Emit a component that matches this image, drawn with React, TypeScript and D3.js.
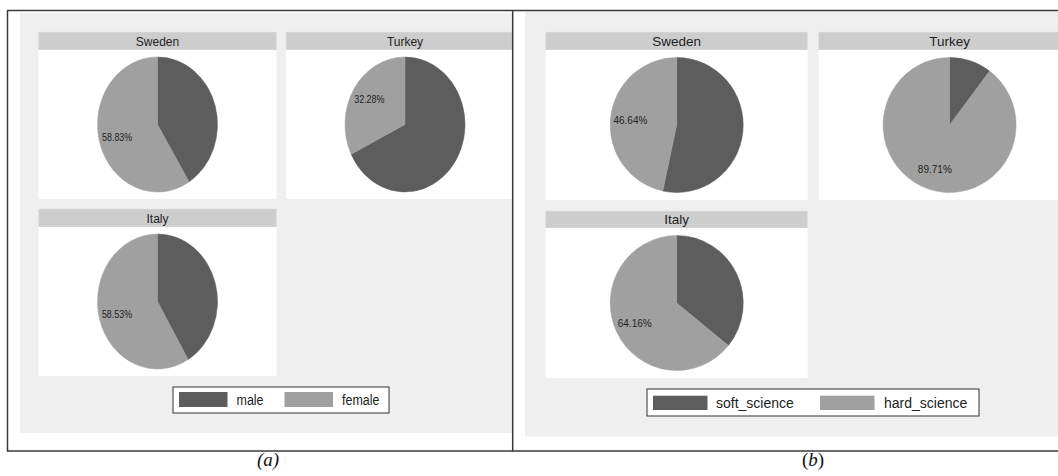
import React from "react";
import * as d3 from "d3";

// ---------- data ----------
const countries = ["Sweden", "Turkey", "Italy"];
const genderKeys = ["male", "female"];
const malePct = [41.17, 67.72, 41.47];
const femalePct = [58.83, 32.28, 58.53];
const scienceKeys = ["soft_science", "hard_science"];
const softPct = [53.36, 10.29, 35.84];
const hardPct = [46.64, 89.71, 64.16];
const captions = ["a", "b"];

const DARK = "#5d5d5d";
const LIGHT = "#a0a0a0";
const HEADER = "#cdcdcd";
const BG = "#efefef";
const FONT = "'Liberation Sans', Arial, sans-serif";

type Cell = { x: number; w: number; hy: number; py: number; ph: number };
type PanelCfg = {
  clipX0: number;
  clipX1: number;
  bg: [number, number, number, number];
  cells: Cell[];
  rx: number;
  ry: number;
  sx: number;
  keys: string[];
  first: number[];
  second: number[];
  legend: { x0: number; x1: number; y0: number; y1: number; sw: number[]; tx: number[]; sh: [number, number] };
};

const panels: PanelCfg[] = [
  {
    clipX0: 8,
    clipX1: 512,
    bg: [20, 13, 512, 433],
    cells: [
      { x: 38.5, w: 238, hy: 32, py: 50, ph: 149 },
      { x: 286, w: 238, hy: 32, py: 50, ph: 149 },
      { x: 38.5, w: 238, hy: 209, py: 227, ph: 149 },
    ],
    rx: 60,
    ry: 67.5,
    sx: 0.89,
    keys: genderKeys,
    first: malePct,
    second: femalePct,
    legend: { x0: 173, x1: 389, y0: 387, y1: 413, sw: [179, 284.5], tx: [236.5, 342], sh: [392, 407] },
  },
  {
    clipX0: 513,
    clipX1: 1058,
    bg: [525, 12, 1058, 436.5],
    cells: [
      { x: 545.7, w: 262, hy: 32, py: 50, ph: 150 },
      { x: 818.6, w: 262, hy: 32, py: 50, ph: 150 },
      { x: 545.7, w: 262, hy: 211, py: 228, ph: 150 },
    ],
    rx: 66.5,
    ry: 67.5,
    sx: 1,
    keys: scienceKeys,
    first: softPct,
    second: hardPct,
    legend: { x0: 647, x1: 979, y0: 389, y1: 416, sw: [653, 820], tx: [716, 884], sh: [395.7, 410] },
  },
];

const Panel: React.FC<{ cfg: PanelCfg; idx: number }> = ({ cfg, idx }) => {
  const pie = d3.pie<number>().sort(null).value((d) => d);
  const arc = d3.arc<d3.PieArcDatum<number>>().innerRadius(0).outerRadius(cfg.rx);
  const labelArc = d3
    .arc<d3.PieArcDatum<number>>()
    .innerRadius(cfg.rx * 0.7)
    .outerRadius(cfg.rx * 0.7);
  const ys = cfg.ry / cfg.rx;
  const colors = [DARK, LIGHT];
  const clipId = `clip${idx}`;
  const L = cfg.legend;
  return (
    <g>
      <defs>
        <clipPath id={clipId}>
          <rect x={cfg.clipX0} y={11} width={cfg.clipX1 - cfg.clipX0} height={440} />
        </clipPath>
      </defs>
      <g clipPath={`url(#${clipId})`}>
        <rect x={cfg.bg[0]} y={cfg.bg[1]} width={cfg.bg[2] - cfg.bg[0]} height={cfg.bg[3] - cfg.bg[1]} fill={BG} />
        {countries.map((c, i) => {
          const cell = cfg.cells[i];
          const cx = cell.x + cell.w / 2;
          const cy = cell.py + cell.ph / 2;
          const arcs = pie([cfg.first[i], cfg.second[i]]);
          const lab = labelArc.centroid(arcs[1]);
          return (
            <g key={c}>
              <rect x={cell.x} y={cell.hy} width={cell.w} height={cell.py - cell.hy} fill={HEADER} stroke="#dde4e8" strokeWidth={0.6} />
              <rect x={cell.x} y={cell.py} width={cell.w} height={cell.ph} fill="#ffffff" />
              <text
                transform={`translate(${cx},${(cell.hy + cell.py) / 2 + 4.8}) scale(${cfg.sx},1)`}
                textAnchor="middle"
                fontFamily={FONT}
                fontSize={13.5}
                fill="#222"
              >
                {c}
              </text>
              <g transform={`translate(${cx},${cy}) scale(1,${ys})`}>
                {arcs.map((a, j) => (
                  <path key={j} d={arc(a) || ""} fill={colors[j]} stroke={colors[j]} strokeWidth={0.5} />
                ))}
              </g>
              <text
                transform={`translate(${cx + lab[0]},${cy + lab[1] * ys + 3.5}) scale(${cfg.sx},1)`}
                textAnchor="middle"
                fontFamily={FONT}
                fontSize={10}
                fill="#222"
              >
                {`${cfg.second[i].toFixed(2)}%`}
              </text>
            </g>
          );
        })}
        <rect x={L.x0} y={L.y0} width={L.x1 - L.x0} height={L.y1 - L.y0} fill="#fff" stroke="#333" strokeWidth={1} />
        {cfg.keys.map((k, j) => (
          <g key={k}>
            <rect x={L.sw[j]} y={L.sh[0]} width={54.5 * cfg.sx} height={L.sh[1] - L.sh[0]} fill={colors[j]} />
            <text
              transform={`translate(${L.tx[j]},${(L.y0 + L.y1) / 2 + 5}) scale(${cfg.sx},1)`}
              fontFamily={FONT}
              fontSize={14}
              fill="#222"
            >
              {k}
            </text>
          </g>
        ))}
      </g>
    </g>
  );
};

export default function App() {
  return (
    <svg
      width={1058}
      height={476}
      viewBox="0 0 1058 476"
      style={{ position: "absolute", left: 0, top: 0, background: "#fff" }}
    >
      {panels.map((p, i) => (
        <Panel key={i} cfg={p} idx={i} />
      ))}
      {/* frame lines */}
      <line x1={7} y1={10.5} x2={1058} y2={10.5} stroke="#3a3a3a" strokeWidth={1.5} />
      <line x1={7} y1={451} x2={1058} y2={451} stroke="#3a3a3a" strokeWidth={1.5} />
      <line x1={7.5} y1={10} x2={7.5} y2={451.5} stroke="#3a3a3a" strokeWidth={1.5} />
      <line x1={512.7} y1={10} x2={512.7} y2={451.5} stroke="#3a3a3a" strokeWidth={1.5} />
      <text x={268} y={466} textAnchor="middle" fontFamily="'Liberation Serif', 'Times New Roman', serif" fontSize={19} fontStyle="italic" fill="#111">
        ({captions[0]})
      </text>
      <text x={813} y={466} textAnchor="middle" fontFamily="'Liberation Serif', 'Times New Roman', serif" fontSize={19} fill="#111">
        (<tspan fontStyle="italic">{captions[1]}</tspan>)
      </text>
    </svg>
  );
}
